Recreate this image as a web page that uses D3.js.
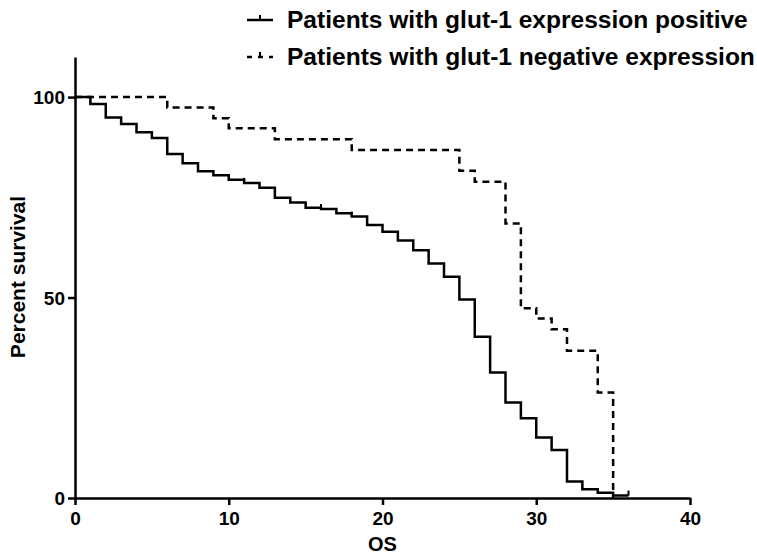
<!DOCTYPE html>
<html>
<head>
<meta charset="utf-8">
<script src="https://cdn.jsdelivr.net/npm/d3@7"></script>
<style>
  body { margin: 0; background: #fff; }
  text { font-family: "Liberation Sans", Arial, Helvetica, sans-serif; font-weight: bold; fill: #000; }
</style>
</head>
<body>
<script>
  // event times (months) and survival after each step
  const posTimes = [0, 1, 2, 3, 4, 5, 6, 7, 8, 9, 10, 11, 12, 13, 14, 15, 16, 17, 18, 19, 20,
                    21, 22, 23, 24, 25, 26, 27, 28, 29, 30, 31, 32, 33, 34, 35, 36];
  const posSurv = [100, 98.3, 94.9, 93.3, 91.2, 89.8, 85.8, 83.5, 81.5, 80.5, 79.4, 78.6, 77.4,
                   74.9, 73.7, 72.4, 72.1, 71.0, 70.2, 68.1, 66.4, 64.2, 61.8, 58.5, 55.2, 49.5,
                   40.2, 31.3, 23.8, 19.9, 15.1, 12.0, 4.1, 2.2, 1.3, 0.6, 0.6];
  const posCensored = [11, 16, 18, 36];

  const negTimes = [0, 6, 9, 10, 13, 18, 25, 26, 28, 29, 30, 31, 32, 34, 35];
  const negSurv = [100, 97.4, 94.7, 92.2, 89.5, 86.8, 81.6, 78.9, 68.5, 47.3, 44.8, 42.1, 36.7, 26.3, 0];

  const xTicks = [0, 10, 20, 30, 40];
  const yTicks = [0, 50, 100];
  const legendLabels = ['Patients with glut-1 expression positive', 'Patients with glut-1 negative expression'];

  const width = 757, height = 556;

  const svg = d3.select('body').append('svg')
    .attr('width', width)
    .attr('height', height);

  const x = d3.scaleLinear().domain([0, 40]).range([75, 690]);
  const y = d3.scaleLinear().domain([0, 110]).range([498, 57]);

  const xAxis = svg.append('g')
    .attr('transform', `translate(0, ${y(0)})`)
    .call(d3.axisBottom(x).tickValues(xTicks).tickSize(7).tickPadding(7).tickSizeOuter(0));
  const yAxis = svg.append('g')
    .attr('transform', `translate(${x(0)}, 0)`)
    .call(d3.axisLeft(y).tickValues(yTicks).tickSize(7).tickPadding(3).tickSizeOuter(0));

  [xAxis, yAxis].forEach(g => {
    g.select('.domain').attr('stroke', '#000').attr('stroke-width', 2.5);
    g.selectAll('.tick line').attr('stroke', '#000').attr('stroke-width', 2.5);
    g.selectAll('.tick text')
      .style('font-family', '"Liberation Sans", Arial, sans-serif')
      .style('font-weight', 'bold')
      .style('font-size', '19px')
      .attr('fill', '#000');
  });
  yAxis.selectAll('.tick text').attr('dy', '0.36em');

  const line = d3.line()
    .x(d => x(d[0]))
    .y(d => y(d[1]))
    .curve(d3.curveStepAfter);

  const posData = posTimes.map((t, i) => [t, posSurv[i]]);
  const negData = negTimes.map((t, i) => [t, negSurv[i]]);

  svg.append('path')
    .datum(negData)
    .attr('fill', 'none')
    .attr('stroke', '#000')
    .attr('stroke-width', 2.5)
    .attr('stroke-dasharray', '7,5')
    .attr('d', line);

  svg.append('path')
    .datum(posData)
    .attr('fill', 'none')
    .attr('stroke', '#000')
    .attr('stroke-width', 2.5)
    .attr('d', line);

  // censor marks on the solid curve
  svg.selectAll('.censor')
    .data(posCensored)
    .enter()
    .append('line')
    .attr('x1', d => x(d))
    .attr('x2', d => x(d))
    .attr('y1', d => y(posSurv[posTimes.indexOf(d)]))
    .attr('y2', d => y(posSurv[posTimes.indexOf(d)]) - 5)
    .attr('stroke', '#000')
    .attr('stroke-width', 2);

  // axis titles
  svg.append('text')
    .attr('x', x(20))
    .attr('y', 551)
    .attr('text-anchor', 'middle')
    .style('font-size', '20px')
    .text('OS');

  svg.append('text')
    .attr('transform', `translate(25, ${277}) rotate(-90)`)
    .attr('text-anchor', 'middle')
    .style('font-size', '21px')
    .text('Percent survival');

  // legend
  const legend = svg.append('g');
  legendLabels.forEach((label, i) => {
    const ly = 20 + i * 37;
    legend.append('line')
      .attr('x1', 247).attr('x2', 273)
      .attr('y1', ly).attr('y2', ly)
      .attr('stroke', '#000')
      .attr('stroke-width', 2.5)
      .attr('stroke-dasharray', i === 0 ? null : '5,6');
    legend.append('line')
      .attr('x1', 260).attr('x2', 260)
      .attr('y1', ly).attr('y2', ly - 5)
      .attr('stroke', '#000')
      .attr('stroke-width', 2);
    const t = legend.append('text')
      .attr('x', 287)
      .attr('y', ly + 8)
      .style('font-size', '20px')
      .text(label);
    // size the label so it spans the same width as in the source figure
    const w = t.node().getComputedTextLength();
    const target = i === 0 ? 461 : 468;
    t.style('font-size', (20 * target / w).toFixed(2) + 'px');
  });
</script>
</body>
</html>
